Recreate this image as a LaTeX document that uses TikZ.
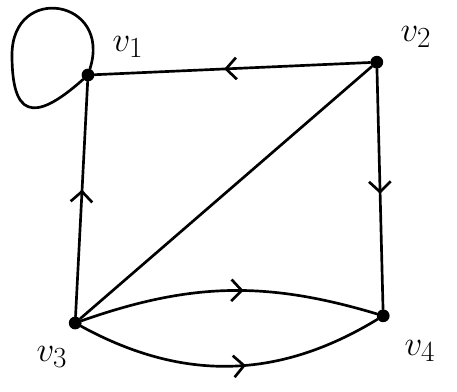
\documentclass[tikz,border=0pt]{standalone}
\usetikzlibrary{arrows.meta,decorations.markings}
\tikzset{
  vert/.style={circle, fill=black, inner sep=0pt, minimum size=3.2mm},
  lbl/.style={font=\Huge},
  edgeline/.style={line width=1.9pt, line cap=round},
  midarr/.style={postaction={decorate, decoration={markings,
      mark=at position #1 with {\arrow{Straight Barb[length=2.6mm, width=5.4mm, line width=1.9pt]}}}}},
  midarr/.default=0.5}
\begin{document}
\begin{tikzpicture}
        \useasboundingbox (0,0) rectangle (11.425,9.775);
        \node[vert] (v1) at (2.2,7.9)   {};
        \node[vert] (v2) at (9.42,8.22) {};
        \node[vert] (v3) at (1.88,1.7)  {};
        \node[vert] (v4) at (9.58,1.88) {};
        \node[lbl] (l1) at (3.2,8.6)   {$v_1$};
        \node[lbl] (l2) at (10.4,8.85) {$v_2$};
        \node[lbl] (l3) at (1.3,0.85)  {$v_3$};
        \node[lbl] (l4) at (10.5,1.0)  {$v_4$};
        % self loop on v1, through its far left point
        \coordinate (lp) at (0.3,8.4);
        \draw[edgeline] (v1) .. controls +(0.6,1.9) and +(0,1.8) .. (lp)
                             .. controls +(0,-1.5) and +(-1.4,-1.25) .. (v1);
        \draw[edgeline, midarr=0.53] (v2) -- (v1);
        \draw[edgeline, midarr=0.52] (v2) -- (v4);
        \draw[edgeline, midarr=0.54] (v3) -- (v1);
        \draw[edgeline] (v3) -- (v2);
        \draw[edgeline, midarr=0.55] (v3) to[bend left=18] (v4);
        \draw[edgeline, midarr=0.55] (v3) to[bend right=30] (v4);
\end{tikzpicture}
\end{document}
